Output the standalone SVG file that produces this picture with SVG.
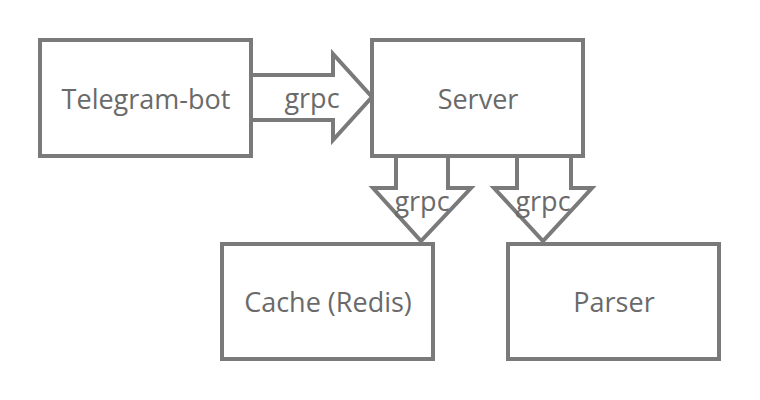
<svg xmlns="http://www.w3.org/2000/svg" width="760" height="400" viewBox="0 0 760 400">
<style>
.box{fill:#fff;stroke:#7a7a7a;stroke-width:4}
.arr{fill:#fff;stroke:#7a7a7a;stroke-width:4;stroke-linejoin:miter}
.t{font-family:"Open Sans",sans-serif;font-size:27px;fill:#6a6a6a;text-anchor:middle}
</style>
<rect width="760" height="400" fill="#fff"/>
<g id="connectors">
<g id="arrow-bot-server">
<path class="arr" d="M252,75 H333 V54 L372,97 L333,140 V120 H252"/>
<text class="t" x="312" y="108">grpc</text>
</g>
<g id="arrow-server-cache">
<path class="arr" d="M396,156 V188 H373 L421,241 L471,188 H448 V156"/>
<text class="t" x="422" y="211">grpc</text>
</g>
<g id="arrow-server-parser">
<path class="arr" d="M517,156 V188 H494 L543,241 L592,188 H571 V156"/>
<text class="t" x="543" y="211">grpc</text>
</g>
</g>
<g id="telegram-bot">
<rect class="box" x="40" y="40" width="211" height="116"/>
<text class="t" x="146" y="109">Telegram-bot</text>
</g>
<g id="server">
<rect class="box" x="372" y="40" width="211" height="116"/>
<text class="t" x="478" y="109">Server</text>
</g>
<g id="cache">
<rect class="box" x="222" y="244" width="211" height="115"/>
<text class="t" x="328" y="312">Cache (Redis)</text>
</g>
<g id="parser">
<rect class="box" x="508" y="244" width="211" height="115"/>
<text class="t" x="614" y="312">Parser</text>
</g>
</svg>
